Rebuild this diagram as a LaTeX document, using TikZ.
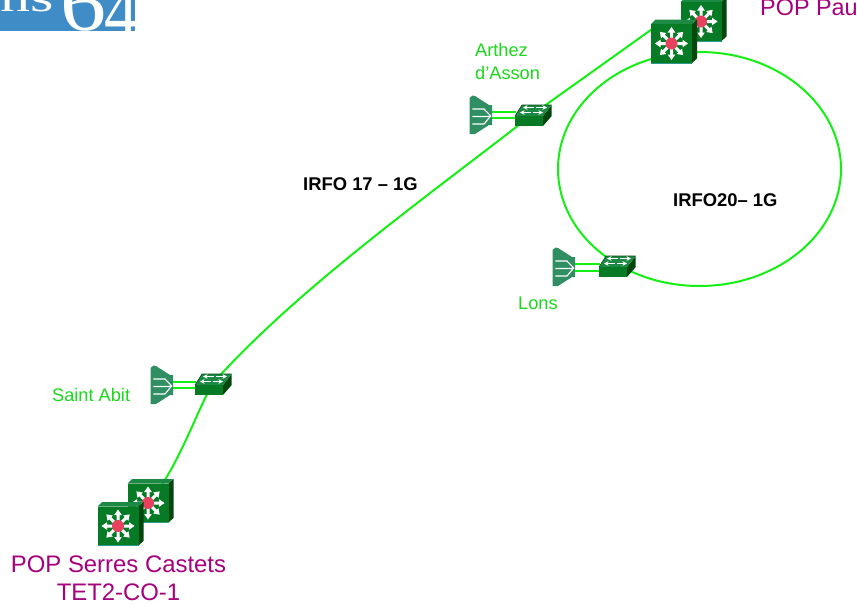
\documentclass[tikz,border=0pt]{standalone}
\usepackage{fontspec}
\usetikzlibrary{arrows.meta}
\setmainfont{Liberation Sans}
\newfontfamily\logofont{Liberation Serif}
\definecolor{logoblue}{HTML}{3F8CC6}
\definecolor{linkgreen}{HTML}{14F014}
\definecolor{labelgreen}{HTML}{1AD81A}
\definecolor{popmag}{HTML}{A6007E}
\definecolor{face}{HTML}{067A24}
\definecolor{topface}{HTML}{1C8A45}
\definecolor{sideface}{HTML}{03470F}
\definecolor{edge}{HTML}{2E9A8A}
\definecolor{hot}{HTML}{E8405F}
\definecolor{wedge}{HTML}{2F8F62}
\tikzset{
  x=1pt,y=-1pt,
  link/.style={draw=linkgreen,line width=2pt},
  ghost/.style={inner sep=0pt,minimum size=2pt},
  greenlabel/.style={text=labelgreen,font=\fontsize{18.2}{23}\selectfont,align=left,inner sep=0pt},
  boldlabel/.style={text=black,font=\bfseries\fontsize{18.4}{22}\selectfont,inner sep=0pt},
  poplabel/.style={text=popmag,font=\fontsize{23.9}{28}\selectfont,align=center,inner sep=0pt},
  whitearrow/.style={draw=white,line width=1.2pt,-{Stealth[length=4.5pt,width=4.5pt]}},
}
\newcommand{\routerbox}[3]{%
  \begin{scope}[shift={(#2,#3)}]
    \fill[topface] (-20.5,-19.5) -- (-16,-24) -- (25,-24) -- (20.5,-19.5) -- cycle;
    \fill[sideface] (20.5,-19.5) -- (25.5,-24) -- (25.5,15) -- (20.5,19.5) -- cycle;
    \fill[face] (-20.5,-19.5) rectangle (20.5,19.5);
    \draw[edge,line width=0.8pt] (-20.5,19.5) -- (20.5,19.5);
    \foreach \a in {0,45,...,315}{
      \begin{scope}[rotate=\a]
        \fill[white] (4,-1.5) -- (11,-1.5) -- (11,-3.8) -- (16.5,0) -- (11,3.8) -- (11,1.5) -- (4,1.5) -- cycle;
      \end{scope}}
    \node[circle,fill=hot,minimum size=12pt,inner sep=0pt] (#1) at (0,0) {};
  \end{scope}}
\newcommand{\switchbox}[3]{%
  \begin{scope}[shift={(#2,#3)}]
    \fill[sideface] (10,2) -- (18.7,-9) -- (18.7,2) -- (10,12) -- cycle;
    \fill[topface] (-18,2) -- (-11,-9) -- (18.7,-9) -- (10,2) -- cycle;
    \fill[face] (-18,2) rectangle (10,12);
    \draw[sideface,line width=0.6pt] (-18,2) -- (-11,-9) -- (18.7,-9);
    \draw[whitearrow] (1,-6.5) -- (-10,-6.5);
    \draw[whitearrow] (3,-6.5) -- (14,-6.5);
    \draw[whitearrow] (-2,-1.5) -- (-13,-1.5);
    \draw[whitearrow] (0,-1.5) -- (10,-1.5);
    \node[ghost] (#1) at (0,1) {};
  \end{scope}}
\newcommand{\wedgebox}[3]{%
  \begin{scope}[shift={(#2,#3)}]
    \fill[wedge] (-11.5,-17) -- (-8.5,-19.5) -- (-6,-19) -- (8,-10) -- (11,-10) -- (11,10) -- (8,10) -- (-6,19) -- (-11.5,19) -- cycle;
    \draw[white,line width=1.1pt] (-8.7,-6) -- (3,-6) -- (9.7,1) -- (3,9) -- (-8.7,9) (-8.7,1.5) -- (9.7,1.5);
    \node[ghost] (#1) at (0,0) {};
  \end{scope}}
\begin{document}
\begin{tikzpicture}
\useasboundingbox (0,0) rectangle (857,605);
% logo
\begin{scope}
  \clip (0,0) rectangle (135,31);
  \fill[logoblue] (0,0) rectangle (135,31);
  \node[ghost,anchor=base west,text=white,xscale=1.5,font=\logofont\fontsize{40}{40}\selectfont] (logoa) at (0,12) {ns};
  \node[ghost,anchor=base west,text=white,xscale=1.15,font=\logofont\fontsize{80}{80}\selectfont] (logob) at (60,30) {6};
  \node[ghost,anchor=base west,text=white,xscale=0.85,font=\logofont\fontsize{80}{80}\selectfont] (logoc) at (104,38) {4};
\end{scope}
% anchors
\coordinate (ringc) at (699.5,169);
\coordinate (pauend) at (662,22);
% ring
\draw[link] (ringc) ellipse [x radius=141.5,y radius=117];
% devices' links drawn first
\node[ghost] (swA0) at (533,114) {};
\node[ghost] (swS0) at (213,383) {};
\node[ghost] (rS0) at (148,503) {};
\draw[link] (rS0) .. controls (178,468) and (195,415) .. (swS0);
\draw[link] (swS0) .. controls (300,287) and (420,202) .. (swA0);
\draw[link] (swA0) -- (pauend);
% Pau routers
\routerbox{rPauB}{701}{21.5}
\routerbox{rPauF}{671.5}{43.5}
% Serres routers
\routerbox{rSerB}{148}{503}
\routerbox{rSerF}{118}{526}
% Arthez
\wedgebox{wA}{481}{115}
\coordinate (wAu) at (492,111.7); \coordinate (wAd) at (492,118.3);
\coordinate (sAu) at (516,111.7); \coordinate (sAd) at (516,118.3);
\draw[link] (wAu) -- (sAu) (wAd) -- (sAd);
\switchbox{swA}{533}{114}
% Lons
\wedgebox{wL}{564}{267}
\coordinate (wLu) at (575,264); \coordinate (wLd) at (575,270.5);
\coordinate (sLu) at (600,264); \coordinate (sLd) at (600,270.5);
\draw[link] (wLu) -- (sLu) (wLd) -- (sLd);
\switchbox{swL}{617}{265}
% Saint Abit
\wedgebox{wS}{162}{385}
\coordinate (wSu) at (173,381.7); \coordinate (wSd) at (173,388.3);
\coordinate (sSu) at (196,381.7); \coordinate (sSd) at (196,388.3);
\draw[link] (wSu) -- (sSu) (wSd) -- (sSd);
\switchbox{swS}{213}{383}
% labels
\node[greenlabel,anchor=base west] (tA) at (475,79) {Arthez\\d’Asson};
\node[greenlabel,anchor=base west] (tL) at (518,309) {Lons};
\node[greenlabel,anchor=base west] (tS) at (52,401) {Saint Abit};
\node[boldlabel,anchor=base west] (t17) at (303,190) {IRFO 17 – 1G};
\node[boldlabel,anchor=base west] (t20) at (673,206) {IRFO20– 1G};
\node[poplabel,anchor=base] (tSer) at (118.5,600) {POP Serres Castets\\TET2-CO-1};
\node[poplabel,anchor=base west,font=\fontsize{23.4}{28}\selectfont] (tPau) at (760,16) {POP Pau};
\end{tikzpicture}
\end{document}
